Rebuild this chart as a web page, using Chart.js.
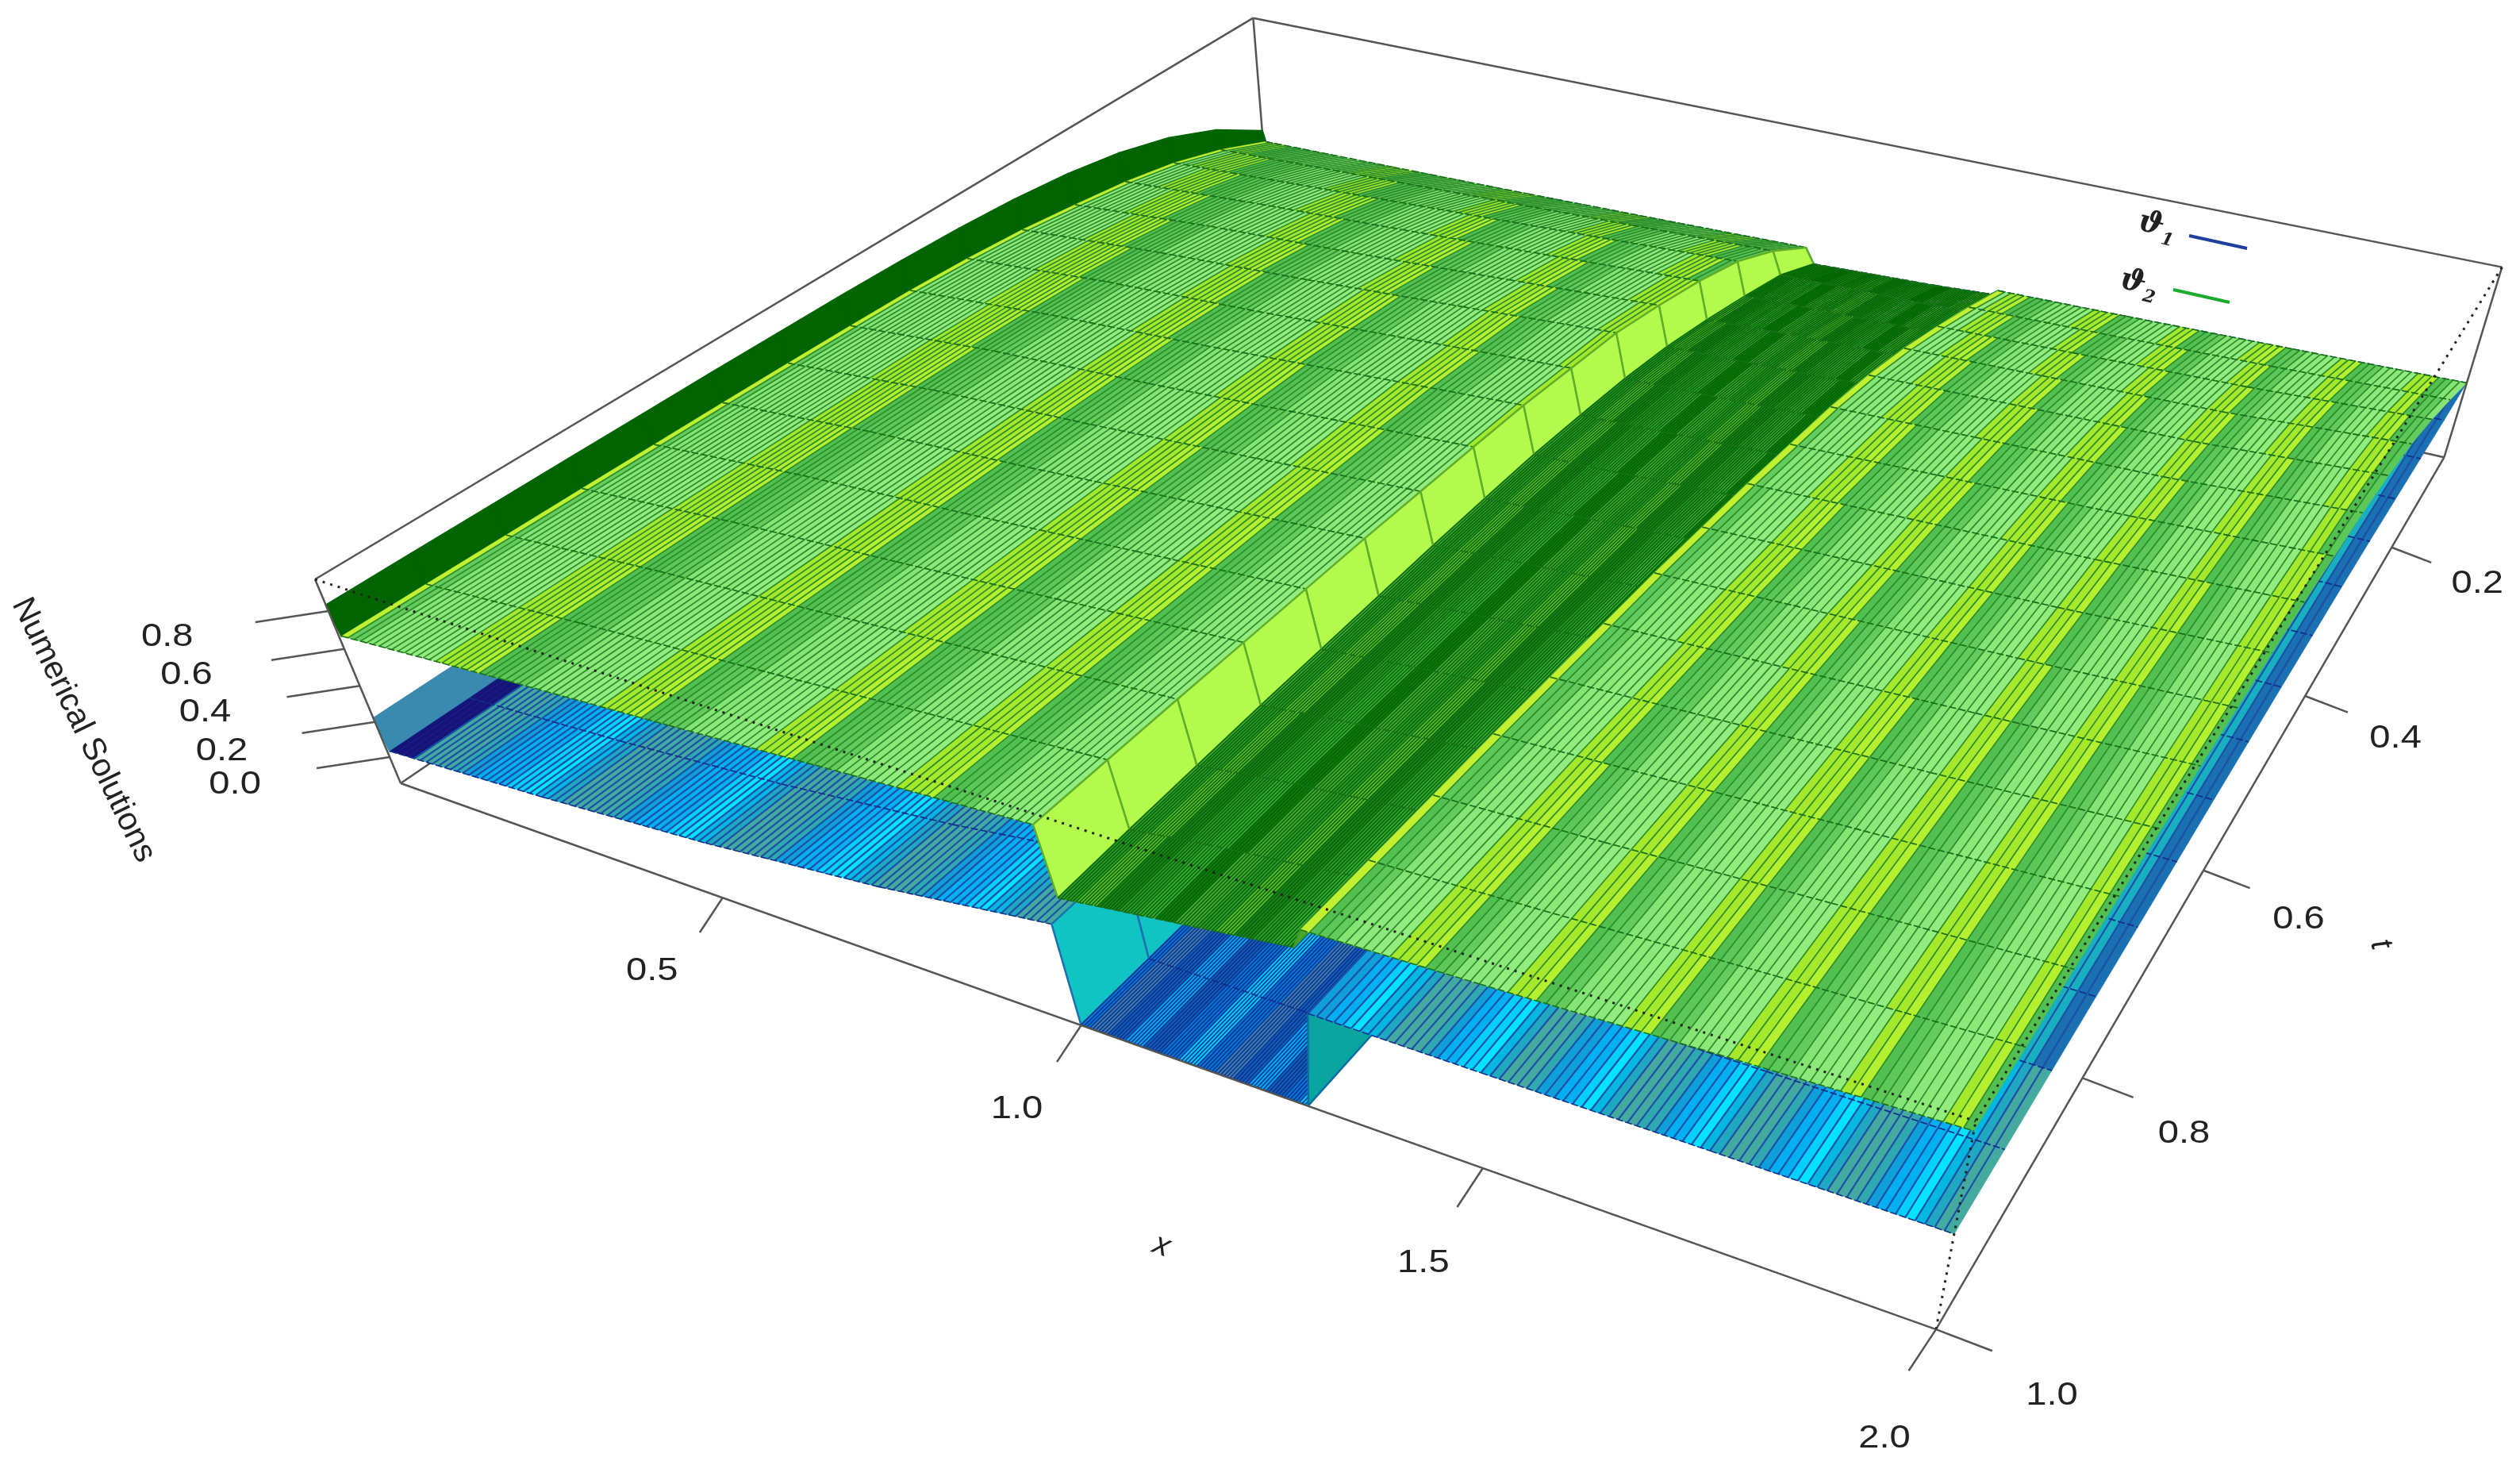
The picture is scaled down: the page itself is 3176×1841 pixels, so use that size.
<!DOCTYPE html>
<html>
<head>
<meta charset="utf-8">
<title>Numerical Solutions</title>
<script src="https://cdn.jsdelivr.net/npm/chart.js@4/dist/chart.umd.min.js"></script>
<style>
html, body { margin: 0; padding: 0; background: #fff; }
canvas { display: block; }
</style>
</head>
<body>
<canvas id="surfaceChart" width="3176" height="1841"></canvas>
<script>
// grid of the surfaces
const xKnots = [0, 0.005, 0.25, 0.5, 0.75, 0.985, 1, 1.1, 1.2, 1.29, 1.3, 1.5, 1.75, 2];
const tRows = [0.0625, 0.125, 0.1875, 0.25, 0.3125, 0.375, 0.4375, 0.5, 0.5625, 0.625, 0.6875, 0.75, 0.8125, 0.875, 0.9375, 1];

// one line per x knot, one value per t row
const theta1 = [
    [0.25, 0.24, 0.235, 0.23, 0.228, 0.226, 0.225, 0.224, 0.223, 0.222, 0.222, 0.221, 0.221, 0.221, 0.22, 0.22],
    [0.19, 0.16, 0.13, 0.11, 0.09, 0.08, 0.07, 0.065, 0.06, 0.055, 0.05, 0.05, 0.045, 0.045, 0.04, 0.04],
    [0.2, 0.19, 0.17, 0.15, 0.135, 0.12, 0.11, 0.105, 0.1, 0.098, 0.096, 0.094, 0.092, 0.091, 0.09, 0.09],
    [0.22, 0.21, 0.2, 0.19, 0.18, 0.175, 0.17, 0.168, 0.166, 0.165, 0.164, 0.163, 0.162, 0.161, 0.16, 0.16],
    [0.24, 0.24, 0.245, 0.25, 0.25, 0.255, 0.255, 0.258, 0.258, 0.26, 0.26, 0.26, 0.26, 0.26, 0.26, 0.26],
    [0.26, 0.3, 0.33, 0.35, 0.36, 0.37, 0.375, 0.38, 0.385, 0.385, 0.39, 0.39, 0.39, 0.39, 0.39, 0.39],
    [0.17, 0.1, 0.02, -0.05, -0.1, -0.13, -0.15, -0.15, -0.15, -0.15, -0.15, -0.15, -0.15, -0.15, -0.15, -0.15],
    [0.185, 0.1, 0.02, -0.05, -0.1, -0.13, -0.15, -0.15, -0.15, -0.15, -0.15, -0.15, -0.15, -0.15, -0.15, -0.15],
    [0.2, 0.11, 0.025, -0.05, -0.1, -0.13, -0.15, -0.15, -0.15, -0.15, -0.15, -0.15, -0.15, -0.15, -0.15, -0.15],
    [0.22, 0.12, 0.03, -0.05, -0.1, -0.13, -0.15, -0.15, -0.15, -0.15, -0.15, -0.15, -0.15, -0.15, -0.15, -0.15],
    [0.25, 0.28, 0.31, 0.33, 0.345, 0.355, 0.36, 0.365, 0.37, 0.37, 0.375, 0.375, 0.375, 0.38, 0.38, 0.38],
    [0.262, 0.29, 0.315, 0.335, 0.35, 0.36, 0.365, 0.37, 0.372, 0.375, 0.376, 0.377, 0.378, 0.379, 0.38, 0.38],
    [0.28, 0.3, 0.32, 0.34, 0.355, 0.365, 0.37, 0.375, 0.377, 0.378, 0.379, 0.38, 0.381, 0.382, 0.382, 0.382],
    [0.3, 0.31, 0.325, 0.34, 0.355, 0.365, 0.37, 0.375, 0.378, 0.38, 0.38, 0.381, 0.382, 0.383, 0.384, 0.384]
];
const theta2 = [
    [0.256, 0.44, 0.57, 0.66, 0.72, 0.76, 0.785, 0.8, 0.81, 0.815, 0.82, 0.822, 0.825, 0.827, 0.829, 0.83],
    [0.19, 0.32, 0.42, 0.49, 0.54, 0.585, 0.615, 0.635, 0.645, 0.652, 0.658, 0.662, 0.666, 0.669, 0.672, 0.674],
    [0.205, 0.35, 0.46, 0.54, 0.6, 0.645, 0.68, 0.7, 0.715, 0.722, 0.727, 0.73, 0.732, 0.733, 0.734, 0.735],
    [0.22, 0.38, 0.5, 0.58, 0.64, 0.69, 0.72, 0.745, 0.757, 0.765, 0.772, 0.777, 0.781, 0.785, 0.788, 0.79],
    [0.24, 0.41, 0.54, 0.625, 0.69, 0.745, 0.775, 0.8, 0.812, 0.82, 0.83, 0.835, 0.84, 0.844, 0.847, 0.85],
    [0.26, 0.44, 0.58, 0.67, 0.74, 0.8, 0.826, 0.852, 0.865, 0.875, 0.885, 0.89, 0.895, 0.9, 0.903, 0.905],
    [0.17, 0.305, 0.385, 0.456, 0.517, 0.556, 0.579, 0.597, 0.6, 0.6, 0.595, 0.59, 0.585, 0.575, 0.565, 0.55],
    [0.185, 0.315, 0.4, 0.475, 0.53, 0.57, 0.595, 0.61, 0.625, 0.63, 0.63, 0.63, 0.63, 0.63, 0.62, 0.605],
    [0.2, 0.32, 0.41, 0.49, 0.545, 0.585, 0.612, 0.63, 0.65, 0.655, 0.66, 0.662, 0.665, 0.668, 0.665, 0.66],
    [0.22, 0.33, 0.42, 0.5, 0.56, 0.6, 0.63, 0.65, 0.67, 0.68, 0.69, 0.695, 0.7, 0.705, 0.708, 0.712],
    [0.25, 0.36, 0.46, 0.55, 0.62, 0.67, 0.7, 0.73, 0.75, 0.77, 0.78, 0.79, 0.8, 0.805, 0.81, 0.815],
    [0.262, 0.375, 0.48, 0.57, 0.64, 0.69, 0.725, 0.755, 0.775, 0.795, 0.805, 0.815, 0.825, 0.83, 0.835, 0.84],
    [0.28, 0.4, 0.505, 0.595, 0.665, 0.715, 0.755, 0.785, 0.805, 0.825, 0.84, 0.85, 0.86, 0.87, 0.875, 0.88],
    [0.3, 0.43, 0.55, 0.65, 0.72, 0.77, 0.8, 0.83, 0.85, 0.865, 0.88, 0.89, 0.9, 0.905, 0.91, 0.915]
];

const xTicks = [0.5, 1, 1.5, 2];
const tTicks = [0.2, 0.4, 0.6, 0.8, 1];
const zTicks = [0, 0.2, 0.4, 0.6, 0.8];

// box limits
const xLim = [0, 2], tLim = [0.0625, 1], zLim = [-0.153, 0.963];

// camera of the persp box, fitted on the corners of the picture
function viewDepth(u, v, w) {
    return 1 - 0.20405 * u + 0.39252 * v - 0.07063 * w;
}

function project(x, t, z) {
    let u = (x - xLim[0]) / (xLim[1] - xLim[0]);
    let v = (tLim[1] - t) / (tLim[1] - tLim[0]);
    let w = (z - zLim[0]) / (zLim[1] - zLim[0]);
    let d = viewDepth(u, v, w);
    return {
        x: (505 + 1437.1 * u + 1718.8 * v - 136 * w) / d,
        y: (987 + 346.3 * u - 648.4 * v - 308.6 * w) / d,
        d: d
    };
}

function surfacePoints(values) {
    let pts = [];
    tRows.forEach((t, it) => {
        xKnots.forEach((x, ix) => pts.push(project(x, t, values[ix][it])));
    });
    return pts;
}

function edge(a, b) {
    return [project(a[0], a[1], a[2]), project(b[0], b[1], b[2])];
}

// what each x interval is, and how many facets its hatching has
const cellKinds = ["wallA", "plain", "plain", "plain", "plain", "wallB", "trough", "trough", "trough", "wallC", "plain", "plain", "plain"];
const cellCols = [1, 25, 25, 25, 24, 1, 26, 26, 24, 1, 20, 25, 25];

const greenLook = {
    wallA: "#006400", wallB: "#b2fb4c", wallC: "#4ca82c", seamA: "#006400", seamB: "#5fae2a", seamC: "#3f9a2a",
    plainLine: "#2c8c2c", plainWidth: 1.7, rowLine: "#1b6f1b",
    plain: ["#b4f030", "#a6e82c", "#a6e82c", "#92ec7e", "#92ec7e", "#8ce878", "#8ce878", "#84e474", "#64cc5c", "#5cc858", "#52c050"],
    troughLine: "#006400",
    trough: ["#3aa83a", "#2f9a2f", "#1f8020", "#5cb82e", "#2f9a2f", "#48a838", "#0f7a10"],
    edgeCells: [1, 10], edgeCount: 1, edgeFill: "#c0f030"
};
const blueLook = {
    wallA: "#3a8ab0", wallB: "#10c4c4", wallC: "#0aa5a0", seamA: "#3a8ab0", seamB: "#1c6fb0", seamC: "#0a6fa0",
    plainLine: "#1c4fa8", plainWidth: 2.2, rowLine: "#12308c",
    plain: ["#00e4ff", "#00d0fa", "#00b0f0", "#00b0f0", "#10a0d8", "#30a8b0", "#44aaa0", "#44aaa0", "#44aaa0", "#20a8c0", "#00b8e0"],
    troughLine: "#0a2a96",
    trough: ["#0078d0", "#1060b0", "#00a8e8", "#1060b0", "#3c7ca8", "#0078d0", "#00c8f0"],
    edgeCells: [1], edgeCount: 4, edgeFill: "#14147a",
    sideCell: 12, sideRows: 13, side: ["#1c9ab0", "#2a8aa0", "#1a70b0", "#18b0c0"]
};

// the colour bands are straight in the picture and head for the t vanishing point
const bandFocus = { x: 4379, y: -1652 };
const bandWidth = 0.036;

function bandColor(colors, p) {
    let a = Math.atan2(p.y - bandFocus.y, p.x - bandFocus.x);
    let i = Math.floor(a / bandWidth * colors.length);
    return colors[((i % colors.length) + colors.length) % colors.length];
}

function mix(a, b, f) {
    return { x: a.x + (b.x - a.x) * f, y: a.y + (b.y - a.y) * f };
}

function quad(ctx, a, b, c, d) {
    ctx.beginPath();
    ctx.moveTo(a.x, a.y);
    ctx.lineTo(b.x, b.y);
    ctx.lineTo(c.x, c.y);
    ctx.lineTo(d.x, d.y);
    ctx.closePath();
}

// back to front: t rows first, then x
function paintSurface(ctx, pts, look) {
    let nx = xKnots.length;
    ctx.lineJoin = "round";
    for (let it = 0; it < tRows.length - 1; it++) {
        for (let ix = 0; ix < nx - 1; ix++) {
            let p00 = pts[it * nx + ix], p10 = pts[it * nx + ix + 1];
            let p01 = pts[(it + 1) * nx + ix], p11 = pts[(it + 1) * nx + ix + 1];
            let kind = cellKinds[ix];
            if (kind.indexOf("wall") == 0) {
                let tag = kind.charAt(4);
                quad(ctx, p00, p10, p11, p01);
                ctx.fillStyle = look[kind];
                ctx.fill();
                ctx.strokeStyle = look["seam" + tag];
                ctx.lineWidth = 2.5;
                ctx.stroke();
                continue;
            }
            let n = cellCols[ix];
            let colors = look[kind];
            if (look.sideCell == ix && it < look.sideRows) colors = look.side;
            let edged = look.edgeCells.indexOf(ix) >= 0;
            for (let j = 0; j < n; j++) {
                let a0 = mix(p00, p10, j / n), b0 = mix(p00, p10, (j + 1) / n);
                let a1 = mix(p01, p11, j / n), b1 = mix(p01, p11, (j + 1) / n);
                let mid = mix(mix(a0, b0, 0.5), mix(a1, b1, 0.5), 0.5);
                quad(ctx, a0, b0, b1, a1);
                ctx.fillStyle = edged && j < look.edgeCount ? look.edgeFill : bandColor(colors, mid);
                ctx.strokeStyle = ctx.fillStyle;
                ctx.lineWidth = 0.6;
                ctx.fill();
                ctx.stroke();
                if (edged && j < look.edgeCount) continue;
                ctx.beginPath();
                ctx.moveTo(a0.x, a0.y);
                ctx.lineTo(a1.x, a1.y);
                ctx.strokeStyle = kind == "plain" ? look.plainLine : look.troughLine;
                ctx.lineWidth = kind == "plain" ? look.plainWidth : 1.4;
                ctx.stroke();
            }
            ctx.strokeStyle = look.rowLine;
            ctx.lineWidth = 1.6;
            ctx.setLineDash([9, 3]);
            ctx.beginPath();
            ctx.moveTo(p00.x, p00.y);
            ctx.lineTo(p10.x, p10.y);
            ctx.moveTo(p01.x, p01.y);
            ctx.lineTo(p11.x, p11.y);
            ctx.stroke();
            ctx.setLineDash([]);
        }
    }
}

function wideText(ctx, txt, x, y) {
    ctx.save();
    ctx.translate(x, y);
    ctx.scale(1.15, 1);
    ctx.fillText(txt, 0, 0);
    ctx.restore();
}

function turnedText(ctx, txt, x, y, deg) {
    ctx.save();
    ctx.translate(x, y);
    ctx.rotate(deg * Math.PI / 180);
    ctx.fillText(txt, 0, 0);
    ctx.restore();
}

// small shifts of the tick labels, in pixels
const xLabelShift = [[-18, -14], [-10, 0], [-4, 14], [6, 32]];
const tLabelShift = [[-12, -4], [-6, 4], [0, 12], [8, 20], [26, 34]];
const zLabelShift = [[0, 4], [2, 6], [0, 2], [-4, 2], [-8, 2]];

function paintAxes(chart) {
    let ctx = chart.ctx;
    let sx = chart.scales.x, sy = chart.scales.y;
    function tick(p, dx, dy, lx, ly, shift, txt) {
        let px = sx.getPixelForValue(p.x), py = sy.getPixelForValue(p.y);
        let k = 0.83 / p.d;
        if (dx < -50) k = 1;
        ctx.beginPath();
        ctx.moveTo(px, py);
        ctx.lineTo(px + dx * k, py + dy * k);
        ctx.stroke();
        wideText(ctx, txt, px + dx + lx + shift[0], py + dy + ly + shift[1]);
    }
    ctx.save();
    ctx.strokeStyle = "#555";
    ctx.lineWidth = 2.5;
    ctx.fillStyle = "#222";
    ctx.textAlign = "center";
    ctx.textBaseline = "middle";
    ctx.font = "41px 'Liberation Sans'";
    xTicks.forEach((v, i) => tick(project(v, tLim[1], zLim[0]), -33, 50, -38, 56, xLabelShift[i], v.toFixed(1)));
    tTicks.forEach((v, i) => tick(project(xLim[1], v, zLim[0]), 68, 26, 52, 24, tLabelShift[i], v.toFixed(1)));
    zTicks.forEach((v, i) => tick(project(xLim[0], tLim[1], v), -92, 14, -103, 17, zLabelShift[i], v.toFixed(1)));

    ctx.font = "41px 'Liberation Sans'";
    turnedText(ctx, "Numerical Solutions", 105, 920, 64);
    ctx.font = "italic 40px 'Liberation Sans'";
    turnedText(ctx, "x", 1464, 1570, 20);
    turnedText(ctx, "t", 3000, 1190, 72);

    // legend, lying in the plane of the box
    ctx.font = "italic bold 38px 'DejaVu Serif'";
    turnedText(ctx, "\u03D1", 2711, 283, 14);
    turnedText(ctx, "\u03D1", 2688, 356, 14);
    ctx.font = "italic bold 22px 'DejaVu Serif'";
    turnedText(ctx, "1", 2731, 303, 14);
    turnedText(ctx, "2", 2708, 375, 14);
    ctx.lineWidth = 4;
    ctx.strokeStyle = "#1f3f9f";
    ctx.beginPath();
    ctx.moveTo(2759, 297);
    ctx.lineTo(2832, 313);
    ctx.stroke();
    ctx.strokeStyle = "#1aab2a";
    ctx.beginPath();
    ctx.moveTo(2739, 365);
    ctx.lineTo(2810, 381);
    ctx.stroke();
    ctx.restore();
}

const surfacePlugin = {
    id: "surfacePaint",
    afterDatasetDraw(chart, args) {
        let ds = chart.data.datasets[args.index];
        if (ds.look) {
            paintSurface(chart.ctx, args.meta.data.map(el => ({ x: el.x, y: el.y })), ds.look);
        }
    },
    afterDraw(chart) {
        paintAxes(chart);
    }
};

function lineSet(points, order, dotted) {
    return {
        data: points,
        showLine: true,
        order: order,
        borderColor: dotted ? "#222" : "#555",
        borderWidth: dotted ? 3 : 2.5,
        borderDash: dotted ? [3, 7] : [],
        pointRadius: 0
    };
}

const [x0, x1] = xLim, [t0, t1] = tLim, [z0, z1] = zLim;

new Chart(document.getElementById("surfaceChart"), {
    type: "scatter",
    data: {
        datasets: [
            // dotted front edges come over the surfaces
            lineSet(edge([x0, t1, z1], [x1, t1, z1]), 1, true),
            lineSet(edge([x1, t0, z1], [x1, t1, z1]), 1, true),
            lineSet(edge([x1, t1, z0], [x1, t1, z1]), 1, true),
            // axes
            lineSet(edge([x0, t1, z0], [x0, t1, z1]), 2),
            lineSet(edge([x0, t1, z0], [x1, t1, z0]), 2),
            lineSet(edge([x1, t1, z0], [x1, t0, z0]), 2),
            lineSet(edge([x1, t0, z0], [x1, t0, z1]), 2),
            { label: "\u03D12", data: surfacePoints(theta2), look: greenLook, order: 3, pointRadius: 0 },
            { label: "\u03D11", data: surfacePoints(theta1), look: blueLook, order: 4, pointRadius: 0 },
            // back of the box
            lineSet(edge([x0, t1, z1], [x0, t0, z1]), 5),
            lineSet(edge([x0, t0, z1], [x1, t0, z1]), 5),
            lineSet(edge([x0, t0, z0], [x0, t0, z1]), 5),
            lineSet(edge([x0, t1, z0], [x0, t0, z0]), 5),
            lineSet(edge([x0, t0, z0], [x1, t0, z0]), 5)
        ]
    },
    options: {
        responsive: false,
        animation: false,
        devicePixelRatio: 1,
        layout: { padding: 0 },
        plugins: { legend: { display: false }, tooltip: { enabled: false } },
        scales: {
            x: { type: "linear", min: 0, max: 3176, display: false },
            y: { type: "linear", min: 0, max: 1841, reverse: true, display: false }
        }
    },
    plugins: [surfacePlugin]
});
</script>
</body>
</html>
